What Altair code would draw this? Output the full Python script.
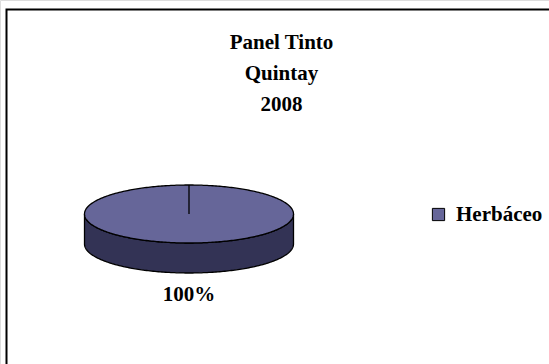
import altair as alt
import numpy as np
import pandas as pd

# ---- data ----
categories = ["Herbáceo"]
values = [100]
title_lines = ["Panel Tinto", "Quintay", "2008"]

# ---- layout / style constants ----
W, H = 549, 364
CX, CY, RX, RY, DEPTH = 189, 214, 104.5, 29, 30
LABEL_GAP = 22
TOP_COLOR = "#666699"
SIDE_COLOR = "#333355"
FONT = "Liberation Serif"

total = float(sum(values))
shares = [v / total for v in values]

# one slice covering the whole pie: elliptical top face and front side
t = np.linspace(0, np.pi, 181)
u = np.cos(t)
s = np.sin(t)
top_df = pd.DataFrame({"u": u, "v": -s, "v2": s, "category": categories[0]})
side_df = pd.DataFrame({"u": u, "v": s, "v2": s + DEPTH / RY})

# slice boundary (start angle at 12 o'clock) and outside label at mid angle
start_ang = 0.0
mid_ang = 2 * np.pi * shares[0] / 2
edge_df = pd.DataFrame({"u": [np.sin(start_ang)], "v": [0.0], "v2": [-np.cos(start_ang)]})
r_lab = 1 + (DEPTH + LABEL_GAP) / RY
label_df = pd.DataFrame({"u": [np.sin(mid_ang) * r_lab], "v": [-np.cos(mid_ang) * r_lab],
                         "share": shares, "category": categories})

xs = alt.Scale(domain=[-1, 1], range=[CX - RX, CX + RX], nice=False, zero=False)
ys = alt.Scale(domain=[-1, 1], range=[CY - RY, CY + RY], nice=False, zero=False)
X = alt.X("u:Q", scale=xs, axis=None)
Y = alt.Y("v:Q", scale=ys, axis=None)

side = alt.Chart(side_df).mark_area(color=SIDE_COLOR, stroke="black", strokeWidth=1.3).encode(
    x=X, y=Y, y2="v2:Q")

top = alt.Chart(top_df).mark_area(stroke="black", strokeWidth=1.3, fillOpacity=1).encode(
    x=X, y=Y, y2="v2:Q",
    color=alt.Color("category:N",
                    scale=alt.Scale(domain=categories, range=[TOP_COLOR]),
                    legend=alt.Legend(title=None, orient="none", legendX=428, legendY=204,
                                      symbolType="square", symbolSize=150,
                                      symbolStrokeColor="black", symbolStrokeWidth=1,
                                      symbolFillColor=TOP_COLOR,
                                      labelFont=FONT, labelFontSize=21, labelFontWeight="bold",
                                      labelColor="black", labelOffset=7)))

edge = alt.Chart(edge_df).mark_rule(color="black", strokeWidth=1.3).encode(x=X, y=Y, y2="v2:Q")

label = alt.Chart(label_df).mark_text(font=FONT, fontSize=21, fontWeight="bold", color="black",
                                      baseline="middle", align="center").encode(
    x=X, y=Y, text=alt.Text("share:Q", format=".0%"))

frame = alt.Chart(pd.DataFrame({"k": [0]})).mark_rect(
    fill="transparent", stroke="black", strokeWidth=2).encode(
    x=alt.value(6.5), y=alt.value(9.5), x2=alt.value(W + 50), y2=alt.value(H + 50))

chart = alt.layer(frame, side, top, edge, label).properties(
    width=W, height=H,
    autosize=alt.AutoSizeParams(type="none"),
    padding=0,
    title=alt.TitleParams(text=title_lines, anchor="middle", font=FONT, fontSize=21,
                          fontWeight="bold", color="black", lineHeight=31,
                          baseline="top", dx=7, dy=119),
).configure_view(stroke=None).configure(background="white")

chart.save("out.html", embed_options={"renderer": "svg", "actions": False})
